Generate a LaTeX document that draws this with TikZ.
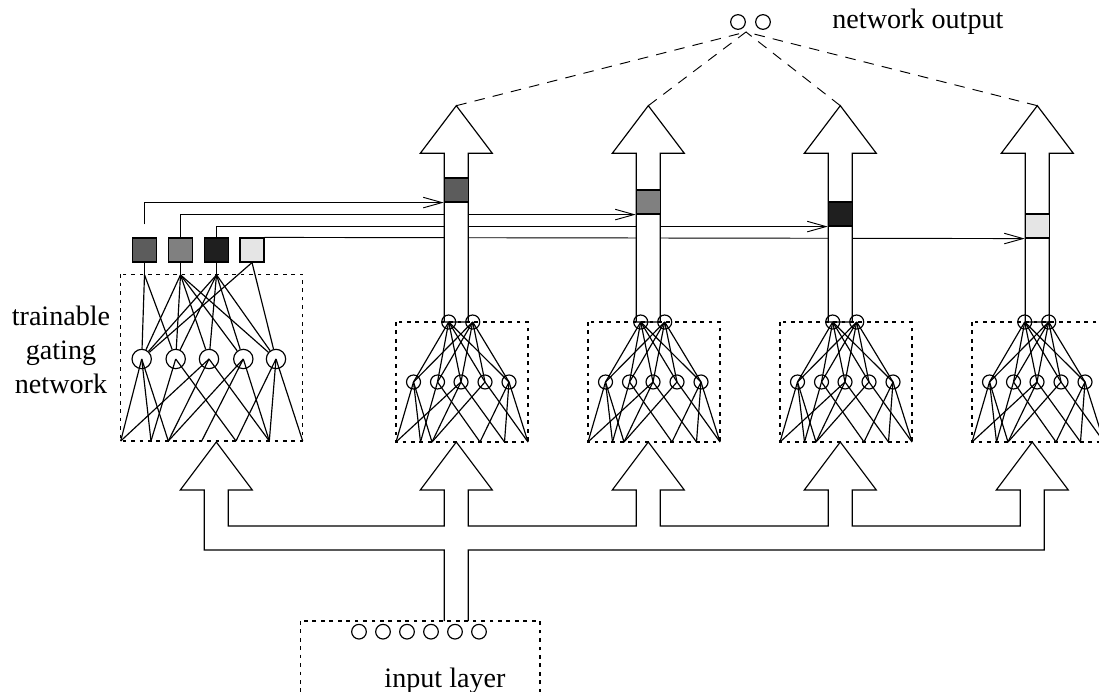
\documentclass[tikz,border=0pt]{standalone}
\usepackage{fontspec}
\setmainfont{Liberation Serif}
\usetikzlibrary{arrows.meta,backgrounds}

\definecolor{gateA}{gray}{0.36}
\definecolor{gateB}{gray}{0.5}
\definecolor{gateC}{gray}{0.12}
\definecolor{gateD}{gray}{0.9}

\begin{document}
\begin{tikzpicture}[x=0.015cm,y=-0.015cm,line width=0.5pt,
  every node/.style={font=\fontsize{12}{14.5}\selectfont},
  unit/.style={draw,circle,minimum size=0.21cm,inner sep=0pt},
  gunit/.style={draw,circle,minimum size=0.29cm,inner sep=0pt},
  gatebox/.style={draw,minimum size=0.36cm,inner sep=0pt},
  netbox/.style={line width=0.45pt,dash pattern=on 1.6pt off 2pt},
  outlink/.style={dash pattern=on 4.5pt off 3.5pt},
  gatelink/.style={-{Straight Barb[length=8pt,width=4.5pt]}},
  pipe/.style={draw,fill=white}]
  \useasboundingbox (0,0) rectangle (1099,692);
  \clip (0,0) rectangle (1099,692);

  % Gating outputs
  \foreach \gx/\gc [count=\i] in {144.5/gateA,180.5/gateB,216.5/gateC,252/gateD}
    \node[gatebox,fill=\gc] (g\i) at (\gx,250) {};

  % Expert output pipes
  \foreach \xl [count=\n] in {444.3,636.3,828.3,1025.3}
    \draw[pipe] (\xl,322) -- (\xl,153.3) -- ++(-24,0) -- ++(36,-47.6) coordinate (tip\n)
      -- ++(36,47.6) -- ++(-24,0) -- (\xl+24,322) -- cycle;

  % Gate values on the pipes
  \foreach \ex/\ey/\ec [count=\n] in {456.3/190/gateA,648.3/202/gateB,840.3/214/gateC,1037.3/226/gateD}
    \node[gatebox,fill=\ec] (e\n) at (\ex,\ey) {};

  % Gate links and output links, behind the pipes
  \begin{scope}[on background layer]
    \draw[gatelink] ([shift={(0,-13)}]g1.north) |- (e1.south west);
    \draw[gatelink] (g2.north) |- (e2.south west);
    \draw[gatelink] (g3.north) |- (e3.south west);
    \draw[gatelink] (g4.north east) -- (e4.south west);
    \coordinate (conv) at (746,32);
    \foreach \n in {1,...,4}
      \draw[outlink] (tip\n) -- (conv);
  \end{scope}

  % Network output
  \node[unit,minimum size=0.22cm] (out1) at (738,22) {};
  \node[unit,minimum size=0.22cm] (out2) at (763,22) {};
  \node[anchor=base west] (outlabel) at (824,29) {network output};

  % Expert networks
  \foreach \xa [count=\n] in {396,588,780,972} {
    \draw[netbox] (\xa,322) rectangle ++(132,120);
    \node[unit] (x\n-o1) at (\xa+52.7,322) {};
    \node[unit] (x\n-o2) at (\xa+76.7,322) {};
    \foreach \hx [count=\i] in {17.5,41.5,65,89,113}
      \node[unit] (x\n-h\i) at (\xa+\hx,382) {};
    \foreach \bx [count=\j] in {0,24.5,36,84,108.5,132}
      \coordinate (x\n-b\j) at (\xa+\bx,442);
    \foreach \o in {1,2}
      \foreach \i in {1,...,5}
        \draw (x\n-o\o.center) -- (x\n-h\i.center);
    \foreach \a/\b in {1/1,1/2,1/3,2/2,2/4,3/1,3/3,3/5,4/3,4/6,5/4,5/5,5/6}
      \draw (x\n-h\a.center) -- (x\n-b\b);
  }

  % Gating network
  \draw[netbox] (120.7,274.3) rectangle (302.7,441);
  \foreach \hx [count=\i] in {141.7,175.7,209,243.3,276}
    \node[gunit] (gh\i) at (\hx,359) {};
  \foreach \bx [count=\j] in {120.7,151,168.3,201.7,236,269.3,302.7}
    \coordinate (gb\j) at (\bx,441);
  \foreach \i in {1,2,3}
    \draw (g\i.south) -- ++(0,12.3) coordinate (gf\i);
  \foreach \i in {1,2}
    \draw (gf1) -- (gh\i);
  \foreach \i in {1,...,5} {
    \draw (gf2) -- (gh\i);
    \draw (gf3) -- (gh\i);
  }
  \foreach \i in {1,5}
    \draw (g4.south) -- (gh\i);
  \foreach \a/\b in {1/1,1/2,1/3,2/2,2/5,3/1,3/3,3/6,4/3,4/4,4/6,5/5,5/6,5/7}
    \draw (gh\a.center) -- (gb\b);
  \node[align=center] (gatelabel) at (61,350) {trainable\\gating\\network};

  % Input bus
  \draw (444.3,621) -- (444.3,550) -- (204.3,550) -- (204.3,490) -- (180.3,490)
    -- (216.3,442) -- (252.3,490) -- (228.3,490) -- (228.3,526) -- (444.3,526)
    -- (444.3,490) -- (420.3,490) -- (456.3,442) -- (492.3,490) -- (468.3,490)
    -- (468.3,526) -- (636.3,526) -- (636.3,490) -- (612.3,490) -- (648.3,442)
    -- (684.3,490) -- (660.3,490) -- (660.3,526) -- (828.3,526) -- (828.3,490)
    -- (804.3,490) -- (840.3,442) -- (876.3,490) -- (852.3,490) -- (852.3,526)
    -- (1020.3,526) -- (1020.3,490) -- (996.3,490) -- (1032.3,442) -- (1068.3,490)
    -- (1044.3,490) -- (1044.3,550) -- (468.3,550) -- (468.3,621);

  % Input layer
  \draw[netbox] (300.7,621) rectangle (540,710);
  \foreach \ix [count=\k] in {359,383,407,431,455,479}
    \node[unit,minimum size=0.22cm] (in\k) at (\ix,631.7) {};
  \node[anchor=base] (inlabel) at (445,687) {input layer};
\end{tikzpicture}
\end{document}
